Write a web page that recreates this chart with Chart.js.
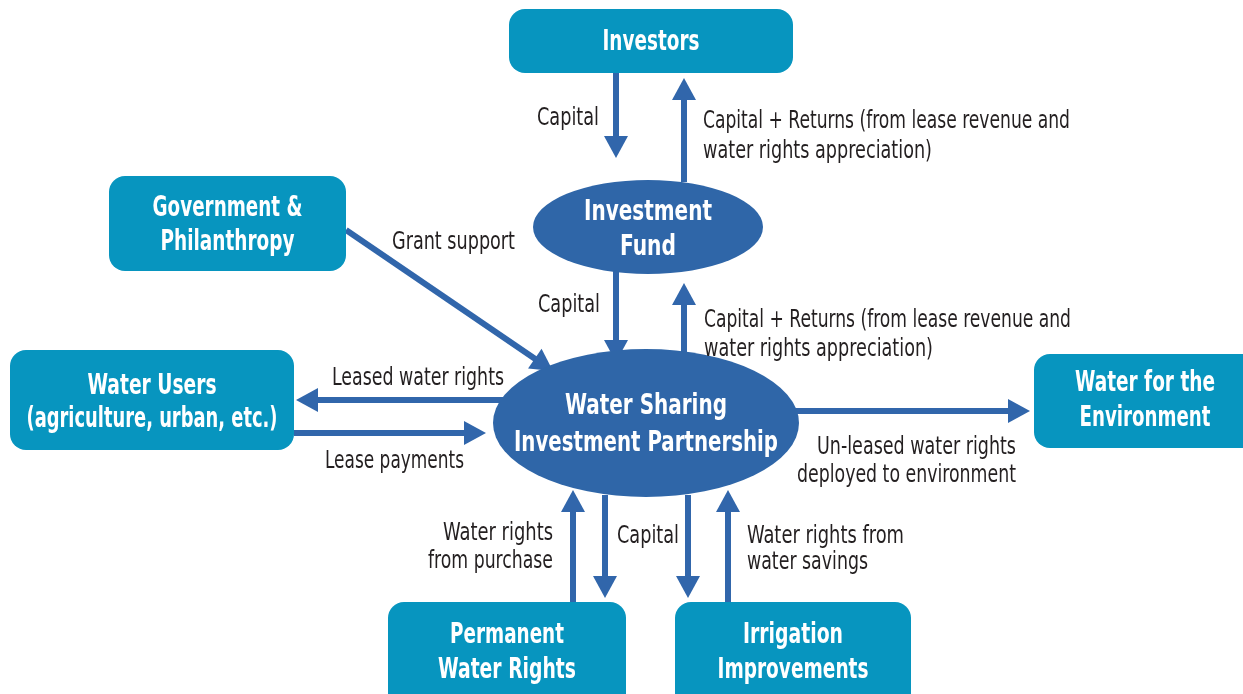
<!DOCTYPE html>
<html>
<head>
<meta charset="utf-8">
<script src="https://cdn.jsdelivr.net/npm/chart.js@4/dist/chart.umd.min.js"></script>
<style>
  html, body { margin: 0; padding: 0; background: #fff; }
  #wrap { width: 1243px; height: 694px; position: relative; }
</style>
</head>
<body>
<div id="wrap"><canvas id="flowChart"></canvas></div>
<script>
(function () {
  const TEAL = '#0795bf';
  const NAVY = '#2f66a8';
  const ARROW = '#3166ab';
  const INK = '#231f20';

  // 박스 / 타원 노드 (좌표는 그림 단위, 위→아래)
  const nodes = [
    { shape: 'box', x0: 509, y0: 9, x1: 793, y1: 73, lines: [['Investors', 40, 97]] },
    { shape: 'box', x0: 109, y0: 176, x1: 346, y1: 271, lines: [['Government &', 206, 150], ['Philanthropy', 240, 134]] },
    { shape: 'box', x0: 10, y0: 350, x1: 294, y1: 450, lines: [['Water Users', 384, 129], ['(agriculture, urban, etc.)', 417, 251]] },
    { shape: 'box', x0: 1034, y0: 354, x1: 1262, y1: 448, cx: 1145, lines: [['Water for the', 381, 140], ['Environment', 416, 131]] },
    { shape: 'box', x0: 388, y0: 602, x1: 626, y1: 712, lines: [['Permanent', 633, 114], ['Water Rights', 668, 138]] },
    { shape: 'box', x0: 675, y0: 602, x1: 911, y1: 712, cx: 793, lines: [['Irrigation', 633, 100], ['Improvements', 668, 151]] },
    { shape: 'ellipse', cx: 648, cy: 227, rx: 115, ry: 47, lines: [['Investment', 210, 128], ['Fund', 245, 56]] },
    { shape: 'ellipse', cx: 646, cy: 423, rx: 153, ry: 74, lines: [['Water Sharing', 404, 162], ['Investment Partnership', 441, 264]] },
  ];

  // 화살표: [시작x, 시작y, 끝x, 끝y] (끝 = 화살촉)
  const edges = [
    [616, 73, 616, 158],
    [684, 182, 684, 78],
    [616, 270, 616, 362],
    [684, 370, 684, 283],
    [346, 230, 553, 371],
    [510, 400, 296, 400],
    [294, 433, 486, 433],
    [795, 411, 1030, 411],
    [573, 602, 573, 490],
    [605, 495, 605, 598],
    [688, 495, 688, 598],
    [728, 602, 728, 490],
  ];

  // 화살표 라벨: [텍스트, x, y, 정렬, 폭]
  const labels = [
    ['Capital', 599, 117, 'right', 62],
    ['Capital + Returns (from lease revenue and', 703, 120, 'left', 367],
    ['water rights appreciation)', 703, 150, 'left', 229],
    ['Grant support', 392, 241, 'left', 123],
    ['Capital', 600, 304, 'right', 62],
    ['Capital + Returns (from lease revenue and', 704, 319, 'left', 367],
    ['water rights appreciation)', 704, 348, 'left', 229],
    ['Leased water rights', 332, 377, 'left', 172],
    ['Lease payments', 325, 460, 'left', 139],
    ['Un-leased water rights', 1016, 446, 'right', 199],
    ['deployed to environment', 1016, 474, 'right', 219],
    ['Water rights', 553, 532, 'right', 110],
    ['from purchase', 553, 560, 'right', 125],
    ['Capital', 617, 535, 'left', 62],
    ['Water rights from', 747, 535, 'left', 157],
    ['water savings', 747, 561, 'left', 121],
  ];

  function fitText(ctx, text, px, py, align, w) {
    const m = ctx.measureText(text).width;
    const s = w / m;
    ctx.save();
    ctx.translate(px, py);
    ctx.scale(s, 1);
    ctx.textAlign = align;
    ctx.textBaseline = 'middle';
    ctx.fillText(text, 0, 0);
    ctx.restore();
  }

  const diagramPlugin = {
    id: 'diagram',
    afterDatasetsDraw(chart) {
      const ctx = chart.ctx;
      const X = (v) => chart.scales.x.getPixelForValue(v);
      const Y = (v) => chart.scales.y.getPixelForValue(v);

      // 화살표
      ctx.save();
      ctx.strokeStyle = ARROW;
      ctx.fillStyle = ARROW;
      ctx.lineWidth = 6;
      edges.forEach(([a, b, c, d]) => {
        const x0 = X(a), y0 = Y(b), x1 = X(c), y1 = Y(d);
        const ang = Math.atan2(y1 - y0, x1 - x0);
        const hl = 22, hw = 12;
        const bx = x1 - hl * Math.cos(ang), by = y1 - hl * Math.sin(ang);
        ctx.beginPath();
        ctx.moveTo(x0, y0);
        ctx.lineTo(bx + Math.cos(ang), by + Math.sin(ang));
        ctx.stroke();
        ctx.beginPath();
        ctx.moveTo(x1, y1);
        ctx.lineTo(bx - hw * Math.sin(ang), by + hw * Math.cos(ang));
        ctx.lineTo(bx + hw * Math.sin(ang), by - hw * Math.cos(ang));
        ctx.closePath();
        ctx.fill();
      });
      ctx.restore();

      // 노드
      nodes.forEach((n) => {
        ctx.save();
        let cx;
        if (n.shape === 'box') {
          ctx.fillStyle = TEAL;
          ctx.beginPath();
          ctx.roundRect(X(n.x0), Y(n.y0), X(n.x1) - X(n.x0), Y(n.y1) - Y(n.y0), 16);
          ctx.fill();
          cx = X(n.cx !== undefined ? n.cx : (n.x0 + n.x1) / 2);
        } else {
          ctx.fillStyle = NAVY;
          ctx.beginPath();
          ctx.ellipse(X(n.cx), Y(n.cy), X(n.cx + n.rx) - X(n.cx), Y(n.cy + n.ry) - Y(n.cy), 0, 0, Math.PI * 2);
          ctx.fill();
          cx = X(n.cx);
        }
        ctx.fillStyle = '#ffffff';
        ctx.font = 'bold 28px "DejaVu Sans Condensed", "DejaVu Sans"';
        n.lines.forEach(([t, ty, w]) => fitText(ctx, t, cx, Y(ty + 3), 'center', w));
        ctx.restore();
      });

      // 라벨
      ctx.save();
      ctx.fillStyle = INK;
      ctx.font = '24px "DejaVu Sans Condensed", "DejaVu Sans"';
      labels.forEach(([t, x, y, al, w]) => fitText(ctx, t, X(x), Y(y + 2), al, w));
      ctx.restore();
    },
  };

  new Chart(document.getElementById('flowChart'), {
    type: 'scatter',
    data: {
      datasets: [
        {
          label: 'nodes',
          data: nodes.map((n) => ({
            x: n.shape === 'box' ? (n.x0 + n.x1) / 2 : n.cx,
            y: n.shape === 'box' ? (n.y0 + n.y1) / 2 : n.cy,
          })),
          pointRadius: 0,
        },
      ],
    },
    options: {
      responsive: true,
      maintainAspectRatio: false,
      animation: false,
      layout: { padding: 0 },
      plugins: { legend: { display: false }, tooltip: { enabled: false } },
      scales: {
        x: { type: 'linear', min: 0, max: 1243, display: false },
        y: { type: 'linear', min: 0, max: 694, reverse: true, display: false },
      },
    },
    plugins: [diagramPlugin],
  });
})();
</script>
</body>
</html>
